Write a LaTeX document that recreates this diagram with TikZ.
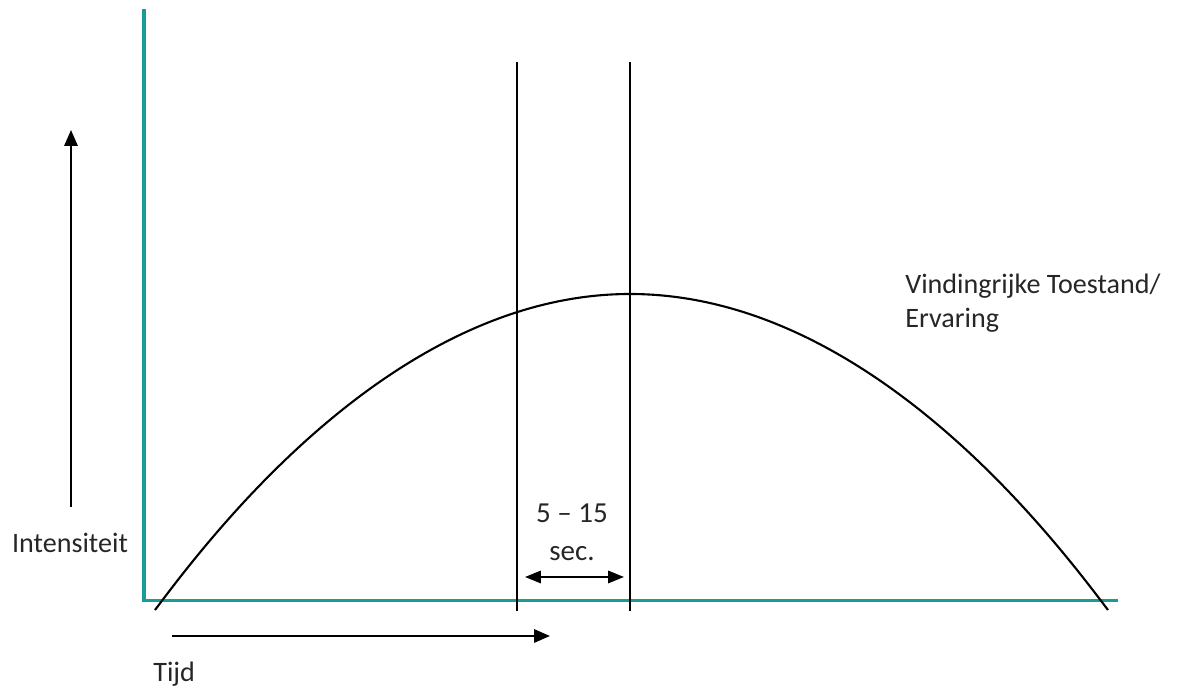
\documentclass[tikz,border=0pt]{standalone}
\usepackage{fontspec}
\setmainfont{Carlito}
\usetikzlibrary{arrows.meta}
\definecolor{axisteal}{RGB}{24,156,153}

\begin{document}
\begin{tikzpicture}[
    x=0.02cm, y=-0.02cm,
    axis/.style={draw=axisteal, line width=1.8pt},
    marker/.style={draw, line width=1.2pt},
    curve/.style={draw, line width=1.2pt},
    arrow/.style={-{Triangle[length=9pt,width=7.5pt]}, line width=1.2pt},
    dblarrow/.style={{Triangle[length=9pt,width=7pt]}-{Triangle[length=9pt,width=7pt]}, line width=1.2pt},
    txt/.style={font=\fontsize{16}{19.5}\selectfont, inner sep=0pt, text=black!85}
]
\useasboundingbox (0,0) rectangle (1178,688);
% axes
\coordinate (ytop) at (144,9);
\coordinate (origin) at (144,600.5);
\coordinate (xend) at (1118,600.5);
\draw[axis] (ytop) -- (origin) -- (xend);
% curve
\coordinate (start) at (155,610);
\coordinate (peak) at (630,294);
\coordinate (stop) at (1108,610);
\draw[curve] (start) parabola bend (peak) (stop);
% window lines
\coordinate (left top) at (517,62);
\coordinate (left bottom) at (517,611);
\coordinate (right top) at (630,62);
\coordinate (right bottom) at (630,611);
\draw[marker] (left top) -- (left bottom);
\draw[marker] (right top) -- (right bottom);
% direction arrows
\coordinate (up from) at (71,507);
\coordinate (up to) at (71,130);
\draw[arrow] (up from) -- (up to);
\coordinate (time from) at (172,636);
\coordinate (time to) at (550,636);
\draw[arrow] (time from) -- (time to);
\coordinate (span left) at (525,577);
\coordinate (span right) at (624,577);
\draw[dblarrow] (span left) -- (span right);
% labels
\node[txt, anchor=base] (intensity) at (70,553) {Intensiteit};
\node[txt, anchor=base west] (time) at (153,682) {Tijd};
\node[txt, anchor=base, font=\fontsize{16.5}{20}\selectfont] (span top) at (572,523) {5 – 15};
\node[txt, anchor=base, font=\fontsize{16.5}{20}\selectfont] (span bottom) at (572,561) {sec.};
\node[txt, anchor=base west, align=left] (state) at (905,328) {Vindingrijke Toestand/\\Ervaring};
\end{tikzpicture}
\end{document}
